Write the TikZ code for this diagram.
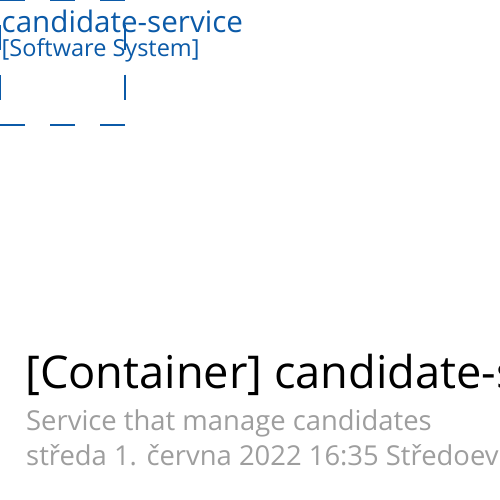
\documentclass[tikz,border=0pt]{standalone}
\usepackage{fontspec}
\setmainfont{Open Sans}
\definecolor{bnd}{HTML}{0B5AA8}
\definecolor{meta}{HTML}{9E9E9E}
\begin{document}
\begin{tikzpicture}[x=1pt,y=-1pt,
  lbl/.style={inner sep=0pt,anchor=base west},
  boundary/.style={draw=bnd,line width=2.4pt,dash pattern=on 25pt off 25pt}]
\useasboundingbox (0,0) rectangle (500,500);
\clip (0,0) rectangle (500,500);
\fill[white] (0,0) rectangle (500,500);
\coordinate (b1) at (0,-0.3);
\coordinate (b2) at (125,-0.3);
\coordinate (b3) at (125,124.7);
\coordinate (b4) at (0,124.7);
\draw[boundary] (b1) -- (b2) -- (b3) -- (b4) -- cycle;
\node[lbl,text=bnd,font=\fontsize{29.6}{36}\selectfont] (bname) at (1.5,32.5) {candidate-service};
\node[lbl,text=bnd,font=\fontsize{23.5}{28}\selectfont] (btype) at (1.5,56.5) {[Software System]};
\node[lbl,text=black,font=\fontsize{45.2}{54}\selectfont] (title) at (25,388.5) {[Container] candidate-service};
\node[lbl,text=meta,font=\fontsize{27.4}{32}\selectfont] (desc) at (26,430) {Service that manage candidates};
\node[lbl,text=meta,font=\fontsize{27.4}{32}\selectfont] (date) at (26,465) {středa 1. června 2022 16:35 Středoevropský letní čas};
\end{tikzpicture}
\end{document}
